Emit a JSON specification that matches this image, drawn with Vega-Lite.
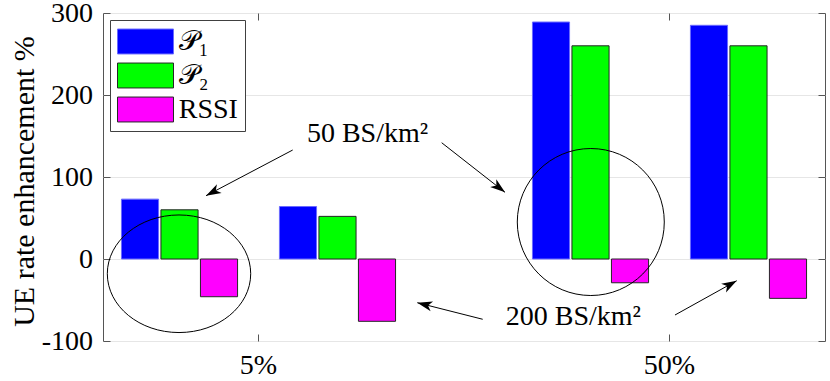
{
  "$schema": "https://vega.github.io/schema/vega-lite/v6.json",
  "width": 722,
  "height": 328,
  "autosize": "none",
  "padding": {"left": 103, "top": 13, "right": 5, "bottom": 40},
  "background": "white",
  "config": {
    "view": {"stroke": "#555555", "strokeWidth": 1},
    "font": "'Liberation Serif', 'Times New Roman', serif",
    "axis": {
      "labelFont": "'Liberation Serif', 'Times New Roman', serif", "labelFontSize": 28, "labelColor": "#000000",
      "titleFont": "'Liberation Serif', 'Times New Roman', serif", "titleFontSize": 30, "titleFontWeight": "normal", "titleColor": "#000000",
      "tickColor": "#555555", "tickWidth": 1, "domain": false, "gridColor": "#e6e6e6", "gridOpacity": 1
    },
    "legend": {"labelFont": "'Liberation Serif', 'Times New Roman', serif"},
    "text": {"font": "'Liberation Serif', 'Times New Roman', serif"}
  },
  "datasets": {
    "bars": [
      {"ratio": "5%", "density": "50", "method": "𝒫₁", "value": 73},
      {"ratio": "5%", "density": "50", "method": "𝒫₂", "value": 60},
      {"ratio": "5%", "density": "50", "method": "RSSI", "value": -46},
      {"ratio": "5%", "density": "200", "method": "𝒫₁", "value": 64},
      {"ratio": "5%", "density": "200", "method": "𝒫₂", "value": 52},
      {"ratio": "5%", "density": "200", "method": "RSSI", "value": -76},
      {"ratio": "50%", "density": "50", "method": "𝒫₁", "value": 289},
      {"ratio": "50%", "density": "50", "method": "𝒫₂", "value": 260},
      {"ratio": "50%", "density": "50", "method": "RSSI", "value": -29},
      {"ratio": "50%", "density": "200", "method": "𝒫₁", "value": 285},
      {"ratio": "50%", "density": "200", "method": "𝒫₂", "value": 260},
      {"ratio": "50%", "density": "200", "method": "RSSI", "value": -48}
    ],
    "arrows": [
      {"x1": 1.0832, "y1": 132.9, "x2": 0.8723, "y2": 77.2, "ang": 242.2},
      {"x1": 1.4457, "y1": 141.8, "x2": 1.5998, "y2": 81.3, "ang": 128.1},
      {"x1": 1.5455, "y1": -73.5, "x2": 1.3864, "y2": -53.3, "ang": 284.2},
      {"x1": 2.0134, "y1": -68.3, "x2": 2.1635, "y2": -26.5, "ang": 60.9}
    ],
    "labels": [
      {"label": "50 BS/km²", "x": 1.2652, "y": 143.1},
      {"label": "200 BS/km²", "x": 1.766, "y": -80.5}
    ],
    "ellipse1": [{"x": 0.8066, "y": -18}],
    "ellipse2": [{"x": 1.8085, "y": 45.1}]
  },
  "resolve": {"scale": {"x": "independent"}},
  "layer": [
    {
      "data": {"name": "bars"},
      "transform": [{"calculate": "datum.density + '-' + datum.method", "as": "slot"}],
      "mark": {"type": "bar", "strokeWidth": 1},
      "encoding": {
        "x": {
          "field": "ratio", "type": "nominal",
          "scale": {"domain": ["5%", "50%"], "paddingInner": 0.3273, "paddingOuter": 0.042},
          "axis": {"orient": "bottom", "title": null, "labelAngle": 0, "tickSize": -7, "labelPadding": 39, "labelBaseline": "alphabetic", "grid": false,
                   "labelFont": "'Liberation Serif', 'Times New Roman', serif", "labelFontSize": 28}
        },
        "xOffset": {
          "field": "slot", "type": "nominal",
          "scale": {"domain": ["50-𝒫₁", "50-𝒫₂", "50-RSSI", "gap", "200-𝒫₁", "200-𝒫₂", "200-RSSI"], "paddingInner": 0.06, "paddingOuter": 0.03}
        },
        "y": {
          "field": "value", "type": "quantitative",
          "scale": {"domain": [-100, 300], "nice": false, "zero": false},
          "axis": {
            "orient": "left", "values": [-100, 0, 100, 200, 300], "grid": true, "tickSize": -7, "labelPadding": 17.5,
            "labelExpr": "'' + datum.value", "labelBaseline": "middle",
            "labelFont": "'Liberation Serif', 'Times New Roman', serif", "labelFontSize": 28,
            "title": "UE rate enhancement %", "titleAngle": 270, "titleX": -70, "titleY": 168,
            "titleFont": "'Liberation Serif', 'Times New Roman', serif", "titleFontSize": 30,
            "titleBaseline": "alphabetic", "titleAlign": "center"
          }
        },
        "color": {
          "field": "method", "type": "nominal",
          "scale": {"domain": ["𝒫₁", "𝒫₂", "RSSI"], "range": ["#0000ff", "#00ff00", "#ff00ff"]},
          "legend": {
            "title": null, "orient": "top-left", "offset": 7, "padding": 7,
            "fillColor": "white", "strokeColor": "#404040",
            "symbolType": "M-1,-0.89 L3,-0.89 L3,0.89 L-1,0.89 Z", "symbolSize": 784, "symbolStrokeWidth": 1,
            "labelFontSize": 28, "labelColor": "#000000", "labelOffset": 32.7,
            "rowPadding": 5, "symbolOpacity": 1
          }
        },
        "stroke": {
          "field": "method", "type": "nominal",
          "scale": {"domain": ["𝒫₁", "𝒫₂", "RSSI"], "range": ["#6a6aff", "#262626", "#262626"]},
          "legend": {
            "title": null, "orient": "top-left", "offset": 7, "padding": 7,
            "fillColor": "white", "strokeColor": "#404040",
            "symbolType": "M-1,-0.89 L3,-0.89 L3,0.89 L-1,0.89 Z", "symbolSize": 784, "symbolStrokeWidth": 1,
            "labelFontSize": 28, "labelColor": "#000000", "labelOffset": 32.7,
            "rowPadding": 5, "symbolOpacity": 1
          }
        }
      }
    },
    {
      "data": {"name": "bars"},
      "mark": {"type": "bar", "opacity": 0},
      "encoding": {
        "x": {
          "field": "ratio", "type": "nominal",
          "scale": {"domain": ["5%", "50%"], "paddingInner": 0.3273, "paddingOuter": 0.042},
          "axis": {"orient": "top", "title": null, "labels": false, "tickSize": -7, "grid": false}
        },
        "y": {
          "field": "value", "type": "quantitative",
          "scale": {"domain": [-100, 300], "nice": false, "zero": false},
          "axis": {"orient": "right", "title": null, "labels": false, "tickSize": -7, "grid": false, "values": [-100, 0, 100, 200, 300]}
        }
      }
    },
    {
      "mark": {"type": "rule", "color": "#666666", "strokeWidth": 1},
      "encoding": {"y": {"datum": 0, "type": "quantitative", "scale": {"domain": [-100, 300], "nice": false, "zero": false}, "axis": null}}
    },
    {
      "data": {"name": "arrows"},
      "mark": {"type": "rule", "color": "black", "strokeWidth": 1},
      "encoding": {
        "x": {"field": "x1", "type": "quantitative", "scale": {"domain": [0.62165, 2.37835], "nice": false, "zero": false}, "axis": null},
        "x2": {"field": "x2"},
        "y": {"field": "y1", "type": "quantitative", "scale": {"domain": [-100, 300], "nice": false, "zero": false}, "axis": null},
        "y2": {"field": "y2"}
      }
    },
    {
      "data": {"name": "arrows"},
      "mark": {"type": "point", "shape": "M0,0 L1,3 L0,2.2 L-1,3 Z", "filled": true, "fill": "black", "size": 100, "opacity": 1, "strokeWidth": 0},
      "encoding": {
        "x": {"field": "x2", "type": "quantitative", "scale": {"domain": [0.62165, 2.37835], "nice": false, "zero": false}, "axis": null},
        "y": {"field": "y2", "type": "quantitative", "scale": {"domain": [-100, 300], "nice": false, "zero": false}, "axis": null},
        "angle": {"field": "ang", "type": "quantitative", "scale": null}
      }
    },
    {
      "data": {"name": "labels"},
      "mark": {"type": "text", "font": "'Liberation Serif', 'Times New Roman', serif", "fontSize": 28, "color": "black", "align": "center", "baseline": "alphabetic"},
      "encoding": {
        "x": {"field": "x", "type": "quantitative", "scale": {"domain": [0.62165, 2.37835], "nice": false, "zero": false}, "axis": null},
        "y": {"field": "y", "type": "quantitative", "scale": {"domain": [-100, 300], "nice": false, "zero": false}, "axis": null},
        "text": {"field": "label", "type": "nominal"}
      }
    },
    {
      "data": {"name": "ellipse1"},
      "mark": {"type": "point", "shape": "M1,0 C1,0.4529 0.5523,0.82 0,0.82 C-0.5523,0.82 -1,0.4529 -1,0 C-1,-0.4529 -0.5523,-0.82 0,-0.82 C0.5523,-0.82 1,-0.4529 1,0 Z", "filled": false, "stroke": "black", "strokeWidth": 1, "size": 20563, "opacity": 1},
      "encoding": {
        "x": {"field": "x", "type": "quantitative", "scale": {"domain": [0.62165, 2.37835], "nice": false, "zero": false}, "axis": null},
        "y": {"field": "y", "type": "quantitative", "scale": {"domain": [-100, 300], "nice": false, "zero": false}, "axis": null}
      }
    },
    {
      "data": {"name": "ellipse2"},
      "mark": {"type": "point", "shape": "M1,0 C1,0.5523 0.5523,1 0,1 C-0.5523,1 -1,0.5523 -1,0 C-1,-0.5523 -0.5523,-1 0,-1 C0.5523,-1 1,-0.5523 1,0 Z", "filled": false, "stroke": "black", "strokeWidth": 1, "size": 21609, "opacity": 1},
      "encoding": {
        "x": {"field": "x", "type": "quantitative", "scale": {"domain": [0.62165, 2.37835], "nice": false, "zero": false}, "axis": null},
        "y": {"field": "y", "type": "quantitative", "scale": {"domain": [-100, 300], "nice": false, "zero": false}, "axis": null}
      }
    }
  ]
}
